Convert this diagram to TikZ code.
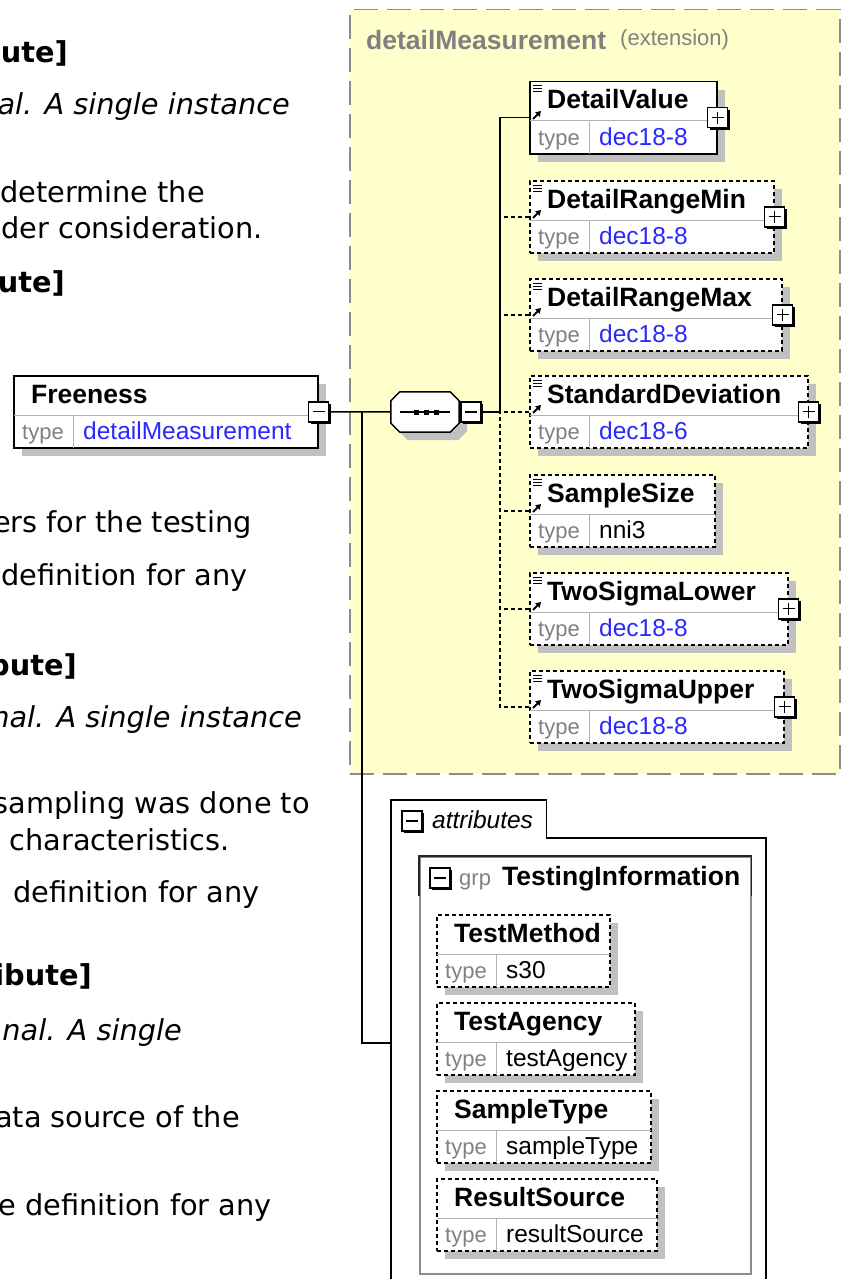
\documentclass[tikz,border=0pt]{standalone}
\usepackage{fontspec}
\setmainfont{Liberation Sans}
\newfontfamily\verdana{DejaVu Sans}
\usetikzlibrary{arrows.meta,positioning}

\definecolor{xsdyellow}{RGB}{255,255,204}
\definecolor{xsdblue}{RGB}{40,40,255}
\definecolor{xsdshadow}{RGB}{192,192,192}

% name row, type row and their dividers of a box node
\newcommand{\typerows}[4]{%
  \draw[divider] ([yshift=-40pt]#1.north west) -- ([yshift=-40pt]#1.north east);
  \draw[divider] ([xshift=60pt,yshift=-40pt]#1.north west) -- ([xshift=60pt]#1.south west);
  \node[nametext] (#1-name) at ([xshift=18pt,yshift=-28pt]#1.north west) {#2};
  \node[typelabel] (#1-type) at ([xshift=9pt,yshift=9pt]#1.south west) {type};
  \node[typeval, text=#4] (#1-val) at ([xshift=70pt,yshift=9pt]#1.south west) {#3};
}

\begin{document}
\begin{tikzpicture}[
    x=1pt, y=-1pt,
    desc/.style={font=\verdana\fontsize{28.8}{34}\selectfont, anchor=base east, inner sep=0pt},
    descbold/.style={desc, font=\verdana\bfseries\fontsize{28.8}{34}\selectfont},
    descit/.style={desc, font=\verdana\itshape\fontsize{28.8}{34}\selectfont},
    shadowed/.style={preaction={fill=xsdshadow, transform canvas={shift={(8pt,-8pt)}}}},
    reqbox/.style={draw, fill=white, line width=1.5pt, minimum height=72pt, inner sep=0pt,
        anchor=north west, shadowed},
    optbox/.style={reqbox, dash pattern=on 4pt off 3pt},
    extbox/.style={draw=black!45, fill=xsdyellow, line width=1.5pt, dash pattern=on 24pt off 9pt,
        anchor=north west, inner sep=0pt},
    grpbox/.style={draw=black!45, line width=1.5pt, anchor=north west, inner sep=0pt},
    expander/.style={draw, fill=white, line width=1.5pt, minimum size=20pt, inner sep=0pt,
        preaction={fill=black, transform canvas={shift={(2pt,-2pt)}}}},
    minusbox/.style={expander, path picture={
        \draw[line width=1.3pt] ([xshift=4pt]path picture bounding box.west)
            -- ([xshift=-4pt]path picture bounding box.east);}},
    plusbox/.style={expander, path picture={
        \draw[line width=1.3pt] ([xshift=4pt]path picture bounding box.west)
            -- ([xshift=-4pt]path picture bounding box.east)
            ([yshift=4pt]path picture bounding box.south)
            -- ([yshift=-4pt]path picture bounding box.north);}},
    divider/.style={draw=black!30, line width=1pt, shorten <=0.75pt, shorten >=0.75pt},
    nametext/.style={font=\fontsize{26.5}{30}\selectfont\bfseries, anchor=base west, inner sep=0pt},
    typelabel/.style={font=\fontsize{22}{26}\selectfont, text=black!50, anchor=base west, inner sep=0pt},
    typeval/.style={font=\fontsize{24.5}{28}\selectfont, text=xsdblue, anchor=base west, inner sep=0pt},
    link/.style={line width=1.5pt},
    optlink/.style={link, dash pattern=on 4pt off 3pt}
]

\useasboundingbox (0,0) rectangle (841,1279);
\clip (0,0) rectangle (841,1279);
\fill[white] (0,0) rectangle (841,1279);

% Documentation text, cut at the left edge
\node[descbold] (t1) at (68,63) {ute]};
\node[descit] (t2) at (290,115) {al. A single instance};
\node[desc] (t3) at (205,202) {determine the};
\node[desc] (t4) at (263,238) {der consideration.};
\node[descbold] (t5) at (65,292) {ute]};
\node[desc] (t6) at (252,532) {ers for the testing};
\node[desc] (t7) at (248,585) {definition for any};
\node[descbold] (t8) at (77,675) {bute]};
\node[descit] (t9) at (302,727) {nal. A single instance};
\node[desc] (t10) at (310,813) {sampling was done to};
\node[desc] (t11) at (230,850) {characteristics.};
\node[desc] (t12) at (260,902) {definition for any};
\node[descbold] (t13) at (92,985) {ibute]};
\node[descit] (t14) at (182,1040) {nal. A single};
\node[desc] (t15) at (240,1127) {ata source of the};
\node[desc] (t16) at (272,1215) {e definition for any};

% Extension type
\node[extbox, minimum width=490pt, minimum height=764pt] (ext) at (349,9) {};
\node[nametext, text=black!50] (ext-name) at (366,50) {detailMeasurement};
\node[typelabel] (ext-kind) at (620,46) {(extension)};

% Root element
\node[reqbox, minimum width=304pt] (freeness) at (13,375) {};
\typerows{freeness}{Freeness}{detailMeasurement}{xsdblue}
\node[minusbox] (freepm) at (freeness.east) {};

% Sequence compositor
\node[minimum width=68pt, minimum height=40pt, inner sep=0pt] (seq) at (425,412) {};
\draw[line width=1.5pt, fill=white, shadowed]
    ([xshift=9pt]seq.north west) -- ([xshift=-9pt]seq.north east)
    -- ([yshift=-9pt]seq.north east) -- ([yshift=9pt]seq.south east)
    -- ([xshift=-9pt]seq.south east) -- ([xshift=9pt]seq.south west)
    -- ([yshift=9pt]seq.south west) -- ([yshift=-9pt]seq.north west) -- cycle;
\draw[line width=1.5pt] ([xshift=-25pt]seq.center) -- ([xshift=25pt]seq.center);
\foreach \dx in {-9,1,11}
    \fill ([xshift=\dx pt]seq.center) +(-2.5,-2.5) rectangle +(2.5,2.5);
\node[minusbox] (seqpm) at (471,412) {};

\coordinate (spine) at (500,412);
\coordinate (branch) at (362,412);
\coordinate (attrin) at (391,1043);

% Child elements
\foreach \id/\lbl/\y/\w/\tv/\tc/\bs/\cs in {
    dval/DetailValue/81/187/dec18-8/xsdblue/reqbox/link,
    dmin/DetailRangeMin/180/244/dec18-8/xsdblue/optbox/optlink,
    dmax/DetailRangeMax/278/252/dec18-8/xsdblue/optbox/optlink,
    sdev/StandardDeviation/375/278/dec18-6/xsdblue/optbox/optlink,
    ssize/SampleSize/474/185/nni3/black/optbox/optlink,
    lo2s/TwoSigmaLower/572/258/dec18-8/xsdblue/optbox/optlink,
    up2s/TwoSigmaUpper/670/254/dec18-8/xsdblue/optbox/optlink}{
  \node[\bs, minimum width=\w pt] (\id) at (529,\y) {};
  \typerows{\id}{\lbl}{\tv}{\tc}
  \draw[line width=1pt] ([xshift=4pt,yshift=-5pt]\id.north west) -- ++(9,0)
      ++(-9,3) -- ++(9,0) ++(-9,3) -- ++(9,0);
  \draw[line width=1.8pt, -{Triangle[length=5pt,width=6pt]}]
      ([xshift=4pt,yshift=-38pt]\id.north west) -- ++(8,-8);
  \draw[\cs] (\id.west) -| (spine);
}
\foreach \id in {dval,dmin,dmax,sdev,lo2s,up2s}
  \node[plusbox] (\id-pm) at (\id.east) {};

% Connectors
\draw[link] (freepm.east) -- (seq.west);
\draw[link] (seqpm.east) -- (spine);
\draw[link] (branch) |- (attrin);

% Attributes
\node[anchor=north west, minimum width=155pt, minimum height=38pt, inner sep=0pt] (atab) at (391,800) {};
\draw[link] (391,1290) |- (atab.north east) |- (766,838) -- (766,1290);
\node[minusbox] (atab-pm) at (412,821) {};
\node[font=\fontsize{24.5}{28}\selectfont\itshape, anchor=base west, inner sep=0pt] (atab-lbl) at (432,828) {attributes};

\node[grpbox, minimum width=331pt, minimum height=417pt] (grp) at (419,856) {};
\draw[line width=1.5pt, black!85] ([yshift=-40pt]grp.north west) |- (grp.north east)
    -- ([yshift=-40pt]grp.north east);
\node[minusbox] (grp-pm) at (440,878) {};
\node[typelabel] (grp-kind) at (459,885) {grp};
\node[nametext] (grp-name) at (502,885) {TestingInformation};

\foreach \id/\lbl/\y/\w/\tv in {
    tmeth/TestMethod/914/173/s30,
    tagcy/TestAgency/1002/198/testAgency,
    stype/SampleType/1090/214/sampleType,
    rsrc/ResultSource/1178/220/resultSource}{
  \node[optbox, minimum width=\w pt] (\id) at (436,\y) {};
  \typerows{\id}{\lbl}{\tv}{black}
}

\end{tikzpicture}
\end{document}
